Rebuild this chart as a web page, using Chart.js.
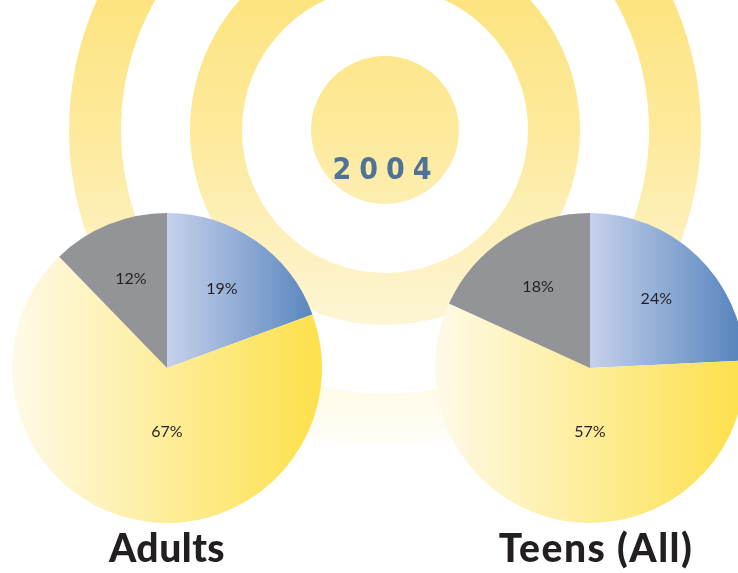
<!DOCTYPE html>
<html lang="en">
<head>
  <meta charset="UTF-8">
  <title>2004 - Adults and Teens</title>
  <script src="https://cdn.jsdelivr.net/npm/chart.js"></script>
  <style>
    html, body { margin: 0; padding: 0; background: #fff; overflow: hidden; }
    body { width: 738px; height: 573px; position: relative; font-family: Lato, "Open Sans", sans-serif; }
    #rings { position: absolute; left: 0; top: 0; }
    .pie { position: absolute; top: 213px; width: 310px; height: 310px; }
    .year {
      position: absolute; left: 278px; width: 200px; top: 151px; text-align: center;
      font-family: "DejaVu Sans Condensed", "DejaVu Sans", sans-serif; font-weight: bold;
      font-size: 30px; letter-spacing: 8px; color: #4f7396; padding-left: 8px;
    }
    .name {
      position: absolute; top: 524px; width: 300px; text-align: center;
      font-weight: 900; font-size: 39px; color: #231f20;
    }
  </style>
</head>
<body>
  <canvas id="rings" width="738" height="573"></canvas>
  <div class="year">2004</div>

  <div class="pie" style="left:12px"><canvas id="adults-chart"></canvas></div>
  <div class="pie" style="left:435px"><canvas id="teens-chart"></canvas></div>

  <div class="name" style="left:17px; letter-spacing:0.5px">Adults</div>
  <div class="name" style="left:446px; letter-spacing:1.5px">Teens (All)</div>

  <script>
    // valores (em %)
    const categories = ['Blue', 'Yellow', 'Gray'];
    const adultsValues = [19, 67, 12];
    const teensValues = [24, 57, 18];

    // cores: início / fim do degradê horizontal de cada fatia
    const sliceColors = [
      ['#c6d1eb', '#5382bc'],
      ['#fefae8', '#fde04a'],
      ['#939498', '#939498']
    ];

    // fundo: anéis amarelos que somem para baixo
    function drawRings() {
      const c = document.getElementById('rings').getContext('2d');
      const cx = 385, cy = 130;
      const g = c.createLinearGradient(0, 0, 0, 470);
      g.addColorStop(0, '#fde480');
      g.addColorStop(0.3, '#fdea9e');
      g.addColorStop(0.65, '#fdf4cf');
      g.addColorStop(0.85, '#fefbea');
      g.addColorStop(1, '#ffffff');
      c.fillStyle = g;
      c.beginPath();
      c.arc(cx, cy, 74, 0, Math.PI * 2);
      c.fill();
      [[143, 195], [264, 316]].forEach(([r0, r1]) => {
        c.beginPath();
        c.arc(cx, cy, r1, 0, Math.PI * 2);
        c.arc(cx, cy, r0, 0, Math.PI * 2, true);
        c.fill();
      });
    }

    function sliceFill(ctx) {
      const i = ctx.dataIndex;
      const area = ctx.chart.chartArea;
      if (!area) return sliceColors[i][1];
      const cx = (area.left + area.right) / 2;
      const r = Math.min(area.right - area.left, area.bottom - area.top) / 2;
      const x0 = i === 0 ? cx : cx - r;
      const g = ctx.chart.ctx.createLinearGradient(x0, 0, cx + r, 0);
      g.addColorStop(0, sliceColors[i][0]);
      g.addColorStop(1, sliceColors[i][1]);
      return g;
    }

    // rótulos de porcentagem dentro das fatias
    const sliceLabels = {
      id: 'sliceLabels',
      afterDatasetsDraw(chart) {
        const c = chart.ctx;
        const vals = chart.data.datasets[0].data;
        c.save();
        c.font = '16px Lato, "Open Sans", sans-serif';
        c.fillStyle = '#231f20';
        c.textAlign = 'center';
        c.textBaseline = 'middle';
        chart.getDatasetMeta(0).data.forEach((arc, i) => {
          const p = arc.getProps(['x', 'y', 'startAngle', 'endAngle', 'outerRadius'], true);
          const span = p.endAngle - p.startAngle;
          // a fatia grande tem o rótulo logo abaixo do centro
          const mid = span > Math.PI ? Math.PI / 2 : p.startAngle + span / 2;
          const f = span > Math.PI ? 0.41 : 0.62;
          c.fillText(vals[i] + '%', p.x + Math.cos(mid) * p.outerRadius * f,
                     p.y + Math.sin(mid) * p.outerRadius * f);
        });
        c.restore();
      }
    };

    function makePie(id, values) {
      new Chart(document.getElementById(id), {
        type: 'pie',
        data: {
          labels: categories,
          datasets: [{ data: values, backgroundColor: sliceFill, borderWidth: 0 }]
        },
        options: {
          responsive: true,
          maintainAspectRatio: false,
          animation: false,
          layout: { padding: 0 },
          plugins: { legend: { display: false }, tooltip: { enabled: false } }
        },
        plugins: [sliceLabels]
      });
    }

    drawRings();
    makePie('adults-chart', adultsValues);
    makePie('teens-chart', teensValues);
  </script>
</body>
</html>
